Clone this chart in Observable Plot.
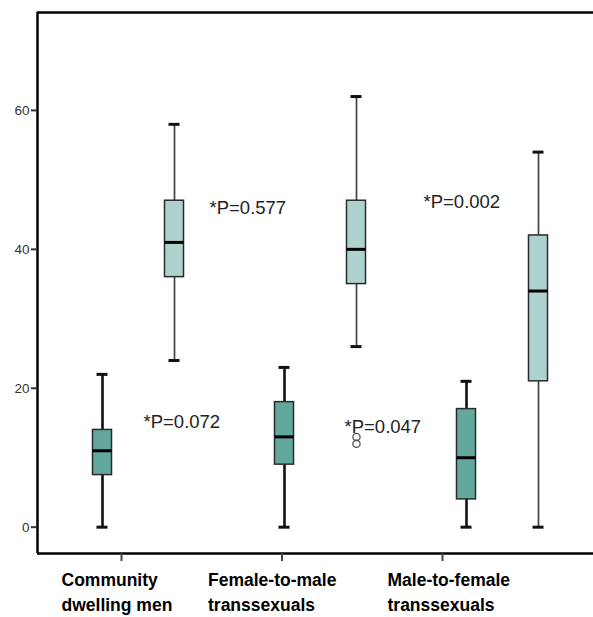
<!DOCTYPE html>
<html>
<head>
<meta charset="utf-8">
<script src="https://cdn.jsdelivr.net/npm/d3@7"></script>
<script src="https://cdn.jsdelivr.net/npm/@observablehq/plot@0.6"></script>
<style>
  body { margin: 0; background: #fff; }
</style>
</head>
<body>
<div id="chart"></div>
<script>
// Groups and their axis labels
const groups = ["Community dwelling men", "Female-to-male transsexuals", "Male-to-female transsexuals"];
const groupLabels = ["Community\ndwelling men", "Female-to-male\ntranssexuals", "Male-to-female\ntranssexuals"];

// First measure (dark boxes): five-number summaries per group
const m1Min    = [0, 0, 0];
const m1Q1     = [7.5, 9, 4];
const m1Median = [11, 13, 10];
const m1Q3     = [14, 18, 17];
const m1Max    = [22, 23, 21];

// Second measure (light boxes)
const m2Min    = [24, 26, 0];
const m2Q1     = [36, 35, 21];
const m2Median = [41, 40, 34];
const m2Q3     = [47, 47, 42];
const m2Max    = [58, 62, 54];

// Outliers of the second measure
const m2OutlierGroup = [1, 1];
const m2OutlierValue = [12, 13];

// Significance annotations
const pLabels = ["*P=0.072", "*P=0.577", "*P=0.047", "*P=0.002"];

// Y-axis ticks
const yTicks = [0, 20, 40, 60];

// ---- layout helpers (x is in group units; one group step = 182 px) ----
const STEP = 182;
const px = n => n / STEP;
const lightOffset = px(72);
const halfBox = px(9.5);
const halfCap = px(5.5);
const tickX = i => px(19) + i * px(160.5);
const labelNudge = [-60, -74, -55];
// annotation anchors: [group, pixel offset from that group's dark box, y value]
const pPlace = [[0, 41, 15.1], [0, 107, 45.9], [1, 60, 14.4], [2, -43, 46.8]];

const xDomain = [px(-65), px(491)];
const yDomain = [-3.79, 74.1];

function table(mins, q1s, meds, q3s, maxs, offset) {
  return groups.map((g, i) => ({
    group: g, x: i + offset,
    min: mins[i], q1: q1s[i], median: meds[i], q3: q3s[i], max: maxs[i]
  }));
}
const m1 = table(m1Min, m1Q1, m1Median, m1Q3, m1Max, 0);
const m2 = table(m2Min, m2Q1, m2Median, m2Q3, m2Max, lightOffset);
const outliers = m2OutlierValue.map((v, i) => ({x: m2OutlierGroup[i] + lightOffset, value: v}));

function boxMarks(data, fill, whiskerStroke, whiskerWidth) {
  return [
    Plot.ruleX(data, {x: "x", y1: "min", y2: "max", stroke: whiskerStroke, strokeWidth: whiskerWidth}),
    Plot.ruleY(data, {y: "min", x1: d => d.x - halfCap, x2: d => d.x + halfCap, stroke: "#111", strokeWidth: 3}),
    Plot.ruleY(data, {y: "max", x1: d => d.x - halfCap, x2: d => d.x + halfCap, stroke: "#111", strokeWidth: 3}),
    Plot.rect(data, {x1: d => d.x - halfBox, x2: d => d.x + halfBox, y1: "q1", y2: "q3",
      fill, stroke: "#2b2b2b", strokeWidth: 1.5}),
    Plot.ruleY(data, {y: "median", x1: d => d.x - halfBox, x2: d => d.x + halfBox, stroke: "#000", strokeWidth: 3})
  ];
}

const chart = Plot.plot({
  width: 593,
  height: 617,
  marginTop: 12,
  marginBottom: 64,
  marginLeft: 37,
  marginRight: 0,
  style: {fontFamily: "'Liberation Sans', Arial, sans-serif", background: "#fff", overflow: "visible"},
  x: {domain: xDomain},
  y: {domain: yDomain},
  marks: [
    // plot frame: left, top, bottom
    Plot.ruleX([xDomain[0]], {y1: yDomain[0], y2: yDomain[1], stroke: "#000", strokeWidth: 2.5}),
    Plot.ruleY([yDomain[1]], {x1: xDomain[0], x2: xDomain[1], stroke: "#000", strokeWidth: 2.5}),
    Plot.ruleY([yDomain[0]], {x1: xDomain[0], x2: xDomain[1], stroke: "#000", strokeWidth: 2.5}),

    Plot.axisY(yTicks, {tickSize: 6, tickPadding: 2, fontSize: 13.5, color: "#333", strokeWidth: 2, label: null}),
    Plot.axisX(groups.map((g, i) => tickX(i)), {tickSize: 8, tickFormat: () => "", stroke: "#444", strokeWidth: 2, label: null}),

    ...boxMarks(m1, "#63a89d", "#111", 2.6),
    ...boxMarks(m2, "#aed3ce", "#444", 1.7),

    Plot.dot(outliers, {x: "x", y: "value", r: 3.6, stroke: "#555", fill: "none", strokeWidth: 1.3}),

    Plot.text(pLabels, {
      x: (d, i) => pPlace[i][0] + px(pPlace[i][1]),
      y: (d, i) => pPlace[i][2],
      text: d => d, textAnchor: "start", fontSize: 18.5, fill: "#222"
    }),

    Plot.text(groupLabels, {
      x: (d, i) => tickX(i) + px(labelNudge[i]),
      y: yDomain[0], dy: 36.5,
      text: d => d, textAnchor: "start", lineAnchor: "middle", lineHeight: 1.43,
      fontSize: 17.5, fontWeight: "bold", fill: "#000"
    })
  ]
});

document.getElementById("chart").appendChild(chart);
</script>
</body>
</html>
